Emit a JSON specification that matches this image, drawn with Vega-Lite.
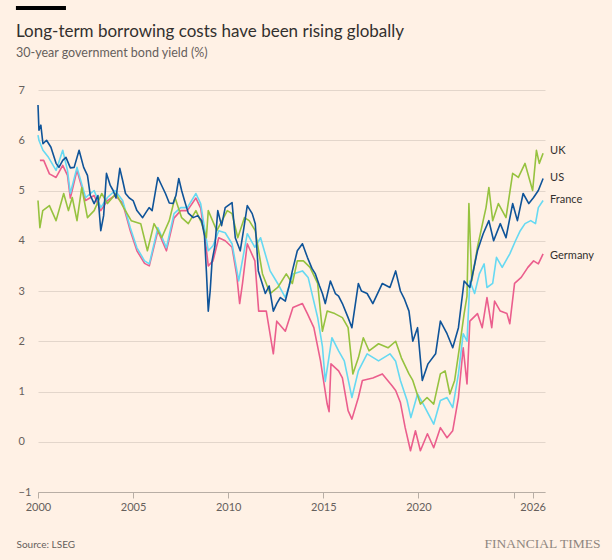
{
  "$schema": "https://vega.github.io/schema/vega-lite/v6.json",
  "description": "30-year government bond yields, FT style",
  "width": 507,
  "height": 402,
  "autosize": {"type": "none"},
  "padding": {"left": 38, "top": 90, "right": 67, "bottom": 68},
  "background": "#fff1e5",
  "config": {
    "view": {"stroke": null},
    "font": "Lato"
  },
  "title": {
    "text": "Long-term borrowing costs have been rising globally",
    "subtitle": "30-year government bond yield (%)",
    "anchor": "start",
    "frame": "group",
    "dx": -22,
    "offset": -54,
    "font": "Lato",
    "fontSize": 17,
    "fontWeight": "normal",
    "color": "#33302e",
    "subtitleFont": "Lato",
    "subtitleFontSize": 12.5,
    "subtitleColor": "#66605c",
    "subtitlePadding": 6
  },
  "datasets": {
    "yields": [
      {"s": "Germany", "t": 2000.1, "v": 5.6},
      {"s": "Germany", "t": 2000.3, "v": 5.6},
      {"s": "Germany", "t": 2000.6, "v": 5.33},
      {"s": "Germany", "t": 2000.95, "v": 5.26},
      {"s": "Germany", "t": 2001.3, "v": 5.5},
      {"s": "Germany", "t": 2001.55, "v": 5.3},
      {"s": "Germany", "t": 2001.7, "v": 4.85},
      {"s": "Germany", "t": 2002.05, "v": 5.4},
      {"s": "Germany", "t": 2002.5, "v": 4.8},
      {"s": "Germany", "t": 2002.95, "v": 4.9},
      {"s": "Germany", "t": 2003.3, "v": 4.6},
      {"s": "Germany", "t": 2003.65, "v": 4.8},
      {"s": "Germany", "t": 2004.05, "v": 4.9},
      {"s": "Germany", "t": 2004.45, "v": 4.75},
      {"s": "Germany", "t": 2004.85, "v": 4.2},
      {"s": "Germany", "t": 2005.2, "v": 3.8},
      {"s": "Germany", "t": 2005.6, "v": 3.55},
      {"s": "Germany", "t": 2005.85, "v": 3.5},
      {"s": "Germany", "t": 2006.3, "v": 4.2},
      {"s": "Germany", "t": 2006.75, "v": 3.8},
      {"s": "Germany", "t": 2007.15, "v": 4.45},
      {"s": "Germany", "t": 2007.5, "v": 4.6},
      {"s": "Germany", "t": 2007.85, "v": 4.6},
      {"s": "Germany", "t": 2008.3, "v": 4.85},
      {"s": "Germany", "t": 2008.55, "v": 4.65},
      {"s": "Germany", "t": 2008.8, "v": 4.0},
      {"s": "Germany", "t": 2008.95, "v": 3.5},
      {"s": "Germany", "t": 2009.2, "v": 3.6},
      {"s": "Germany", "t": 2009.5, "v": 4.06},
      {"s": "Germany", "t": 2009.84, "v": 4.0},
      {"s": "Germany", "t": 2010.2, "v": 3.87},
      {"s": "Germany", "t": 2010.45, "v": 3.3},
      {"s": "Germany", "t": 2010.6, "v": 2.75},
      {"s": "Germany", "t": 2010.75, "v": 3.15},
      {"s": "Germany", "t": 2011.0, "v": 3.94},
      {"s": "Germany", "t": 2011.4, "v": 3.6},
      {"s": "Germany", "t": 2011.6, "v": 2.6},
      {"s": "Germany", "t": 2012.0, "v": 2.6},
      {"s": "Germany", "t": 2012.37, "v": 1.75},
      {"s": "Germany", "t": 2012.55, "v": 2.4},
      {"s": "Germany", "t": 2013.0, "v": 2.2},
      {"s": "Germany", "t": 2013.4, "v": 2.67},
      {"s": "Germany", "t": 2013.9, "v": 2.75},
      {"s": "Germany", "t": 2014.16, "v": 2.55},
      {"s": "Germany", "t": 2014.5, "v": 2.27},
      {"s": "Germany", "t": 2014.85, "v": 1.61},
      {"s": "Germany", "t": 2015.2, "v": 0.75},
      {"s": "Germany", "t": 2015.3, "v": 0.6},
      {"s": "Germany", "t": 2015.4, "v": 1.55},
      {"s": "Germany", "t": 2015.8, "v": 1.41},
      {"s": "Germany", "t": 2016.0, "v": 1.27},
      {"s": "Germany", "t": 2016.3, "v": 0.62},
      {"s": "Germany", "t": 2016.5, "v": 0.45},
      {"s": "Germany", "t": 2016.84, "v": 0.88},
      {"s": "Germany", "t": 2017.05, "v": 1.22},
      {"s": "Germany", "t": 2017.6, "v": 1.27},
      {"s": "Germany", "t": 2018.1, "v": 1.35},
      {"s": "Germany", "t": 2018.6, "v": 1.12},
      {"s": "Germany", "t": 2018.8, "v": 1.02},
      {"s": "Germany", "t": 2019.05, "v": 0.78},
      {"s": "Germany", "t": 2019.3, "v": 0.28},
      {"s": "Germany", "t": 2019.58, "v": -0.18},
      {"s": "Germany", "t": 2019.84, "v": 0.22},
      {"s": "Germany", "t": 2020.1, "v": -0.18},
      {"s": "Germany", "t": 2020.47, "v": 0.16},
      {"s": "Germany", "t": 2020.8, "v": -0.12},
      {"s": "Germany", "t": 2021.15, "v": 0.28},
      {"s": "Germany", "t": 2021.5, "v": 0.08},
      {"s": "Germany", "t": 2021.8, "v": 0.22},
      {"s": "Germany", "t": 2022.1, "v": 0.88},
      {"s": "Germany", "t": 2022.35, "v": 1.87},
      {"s": "Germany", "t": 2022.55, "v": 1.15},
      {"s": "Germany", "t": 2022.7, "v": 2.4},
      {"s": "Germany", "t": 2023.1, "v": 2.55},
      {"s": "Germany", "t": 2023.35, "v": 2.27},
      {"s": "Germany", "t": 2023.6, "v": 2.87},
      {"s": "Germany", "t": 2023.85, "v": 2.27},
      {"s": "Germany", "t": 2024.0, "v": 2.8},
      {"s": "Germany", "t": 2024.3, "v": 2.6},
      {"s": "Germany", "t": 2024.65, "v": 2.55},
      {"s": "Germany", "t": 2024.8, "v": 2.35},
      {"s": "Germany", "t": 2025.05, "v": 3.15},
      {"s": "Germany", "t": 2025.4, "v": 3.27},
      {"s": "Germany", "t": 2025.75, "v": 3.47},
      {"s": "Germany", "t": 2026.05, "v": 3.6},
      {"s": "Germany", "t": 2026.3, "v": 3.54},
      {"s": "Germany", "t": 2026.55, "v": 3.74},

      {"s": "France", "t": 2000.0, "v": 6.1},
      {"s": "France", "t": 2000.05, "v": 6.0},
      {"s": "France", "t": 2000.26, "v": 5.8},
      {"s": "France", "t": 2000.55, "v": 5.66},
      {"s": "France", "t": 2000.95, "v": 5.4},
      {"s": "France", "t": 2001.3, "v": 5.8},
      {"s": "France", "t": 2001.55, "v": 5.4},
      {"s": "France", "t": 2001.7, "v": 4.94},
      {"s": "France", "t": 2002.05, "v": 5.46},
      {"s": "France", "t": 2002.5, "v": 4.86},
      {"s": "France", "t": 2002.95, "v": 5.0},
      {"s": "France", "t": 2003.3, "v": 4.66},
      {"s": "France", "t": 2003.65, "v": 4.86},
      {"s": "France", "t": 2004.05, "v": 5.0},
      {"s": "France", "t": 2004.45, "v": 4.8},
      {"s": "France", "t": 2004.85, "v": 4.26},
      {"s": "France", "t": 2005.2, "v": 3.86},
      {"s": "France", "t": 2005.6, "v": 3.6},
      {"s": "France", "t": 2005.85, "v": 3.54},
      {"s": "France", "t": 2006.3, "v": 4.26},
      {"s": "France", "t": 2006.75, "v": 3.86},
      {"s": "France", "t": 2007.15, "v": 4.54},
      {"s": "France", "t": 2007.5, "v": 4.66},
      {"s": "France", "t": 2007.85, "v": 4.66},
      {"s": "France", "t": 2008.3, "v": 4.94},
      {"s": "France", "t": 2008.55, "v": 4.74},
      {"s": "France", "t": 2008.8, "v": 4.14},
      {"s": "France", "t": 2008.95, "v": 3.8},
      {"s": "France", "t": 2009.2, "v": 3.9},
      {"s": "France", "t": 2009.5, "v": 4.2},
      {"s": "France", "t": 2009.84, "v": 4.16},
      {"s": "France", "t": 2010.2, "v": 3.94},
      {"s": "France", "t": 2010.55, "v": 3.2},
      {"s": "France", "t": 2011.0, "v": 4.14},
      {"s": "France", "t": 2011.4, "v": 3.87},
      {"s": "France", "t": 2011.7, "v": 4.06},
      {"s": "France", "t": 2012.2, "v": 3.4},
      {"s": "France", "t": 2012.6, "v": 3.15},
      {"s": "France", "t": 2013.0, "v": 2.87},
      {"s": "France", "t": 2013.4, "v": 3.34},
      {"s": "France", "t": 2013.9, "v": 3.4},
      {"s": "France", "t": 2014.2, "v": 3.27},
      {"s": "France", "t": 2014.7, "v": 2.47},
      {"s": "France", "t": 2014.95, "v": 1.9},
      {"s": "France", "t": 2015.1, "v": 1.2},
      {"s": "France", "t": 2015.45, "v": 2.07},
      {"s": "France", "t": 2015.8, "v": 1.81},
      {"s": "France", "t": 2016.1, "v": 1.61},
      {"s": "France", "t": 2016.5, "v": 0.88},
      {"s": "France", "t": 2016.84, "v": 1.41},
      {"s": "France", "t": 2017.3, "v": 1.75},
      {"s": "France", "t": 2017.9, "v": 1.61},
      {"s": "France", "t": 2018.5, "v": 1.75},
      {"s": "France", "t": 2018.8, "v": 1.6},
      {"s": "France", "t": 2019.05, "v": 1.22},
      {"s": "France", "t": 2019.4, "v": 0.82},
      {"s": "France", "t": 2019.6, "v": 0.48},
      {"s": "France", "t": 2019.95, "v": 0.95},
      {"s": "France", "t": 2020.25, "v": 0.75},
      {"s": "France", "t": 2020.8, "v": 0.35},
      {"s": "France", "t": 2021.15, "v": 0.82},
      {"s": "France", "t": 2021.5, "v": 0.88},
      {"s": "France", "t": 2021.8, "v": 0.68},
      {"s": "France", "t": 2022.1, "v": 1.35},
      {"s": "France", "t": 2022.35, "v": 2.15},
      {"s": "France", "t": 2022.55, "v": 2.0},
      {"s": "France", "t": 2022.7, "v": 3.2},
      {"s": "France", "t": 2022.95, "v": 2.95},
      {"s": "France", "t": 2023.2, "v": 3.34},
      {"s": "France", "t": 2023.45, "v": 3.54},
      {"s": "France", "t": 2023.6, "v": 3.07},
      {"s": "France", "t": 2023.9, "v": 3.15},
      {"s": "France", "t": 2024.1, "v": 3.67},
      {"s": "France", "t": 2024.4, "v": 3.47},
      {"s": "France", "t": 2024.8, "v": 3.74},
      {"s": "France", "t": 2025.1, "v": 4.0},
      {"s": "France", "t": 2025.35, "v": 4.2},
      {"s": "France", "t": 2025.6, "v": 4.34},
      {"s": "France", "t": 2025.9, "v": 4.4},
      {"s": "France", "t": 2026.15, "v": 4.34},
      {"s": "France", "t": 2026.3, "v": 4.66},
      {"s": "France", "t": 2026.55, "v": 4.8},

      {"s": "UK", "t": 2000.0, "v": 4.8},
      {"s": "UK", "t": 2000.1, "v": 4.26},
      {"s": "UK", "t": 2000.25, "v": 4.6},
      {"s": "UK", "t": 2000.6, "v": 4.7},
      {"s": "UK", "t": 2000.95, "v": 4.4},
      {"s": "UK", "t": 2001.35, "v": 4.94},
      {"s": "UK", "t": 2001.6, "v": 4.6},
      {"s": "UK", "t": 2001.8, "v": 4.86},
      {"s": "UK", "t": 2002.05, "v": 4.4},
      {"s": "UK", "t": 2002.3, "v": 5.06},
      {"s": "UK", "t": 2002.6, "v": 4.46},
      {"s": "UK", "t": 2002.95, "v": 4.6},
      {"s": "UK", "t": 2003.35, "v": 4.94},
      {"s": "UK", "t": 2003.65, "v": 4.74},
      {"s": "UK", "t": 2004.1, "v": 4.94},
      {"s": "UK", "t": 2004.5, "v": 4.66},
      {"s": "UK", "t": 2004.9, "v": 4.4},
      {"s": "UK", "t": 2005.4, "v": 4.34},
      {"s": "UK", "t": 2005.75, "v": 3.8},
      {"s": "UK", "t": 2006.1, "v": 4.34},
      {"s": "UK", "t": 2006.5, "v": 4.06},
      {"s": "UK", "t": 2006.9, "v": 4.4},
      {"s": "UK", "t": 2007.2, "v": 4.86},
      {"s": "UK", "t": 2007.55, "v": 4.46},
      {"s": "UK", "t": 2007.9, "v": 4.34},
      {"s": "UK", "t": 2008.3, "v": 4.6},
      {"s": "UK", "t": 2008.6, "v": 4.35},
      {"s": "UK", "t": 2008.85, "v": 4.06},
      {"s": "UK", "t": 2008.95, "v": 4.6},
      {"s": "UK", "t": 2009.4, "v": 4.2},
      {"s": "UK", "t": 2009.95, "v": 4.6},
      {"s": "UK", "t": 2010.2, "v": 4.54},
      {"s": "UK", "t": 2010.5, "v": 4.06},
      {"s": "UK", "t": 2010.85, "v": 4.46},
      {"s": "UK", "t": 2011.1, "v": 4.4},
      {"s": "UK", "t": 2011.42, "v": 4.2},
      {"s": "UK", "t": 2011.8, "v": 3.34},
      {"s": "UK", "t": 2012.2, "v": 2.95},
      {"s": "UK", "t": 2012.6, "v": 3.07},
      {"s": "UK", "t": 2013.05, "v": 3.34},
      {"s": "UK", "t": 2013.37, "v": 3.15},
      {"s": "UK", "t": 2013.63, "v": 3.6},
      {"s": "UK", "t": 2013.95, "v": 3.6},
      {"s": "UK", "t": 2014.3, "v": 3.47},
      {"s": "UK", "t": 2014.7, "v": 3.15},
      {"s": "UK", "t": 2014.95, "v": 2.2},
      {"s": "UK", "t": 2015.2, "v": 2.6},
      {"s": "UK", "t": 2015.6, "v": 2.55},
      {"s": "UK", "t": 2016.0, "v": 2.47},
      {"s": "UK", "t": 2016.3, "v": 2.27},
      {"s": "UK", "t": 2016.55, "v": 1.35},
      {"s": "UK", "t": 2016.84, "v": 1.67},
      {"s": "UK", "t": 2017.1, "v": 2.07},
      {"s": "UK", "t": 2017.4, "v": 1.81},
      {"s": "UK", "t": 2017.9, "v": 1.95},
      {"s": "UK", "t": 2018.4, "v": 1.87},
      {"s": "UK", "t": 2018.8, "v": 2.0},
      {"s": "UK", "t": 2019.1, "v": 1.67},
      {"s": "UK", "t": 2019.5, "v": 1.35},
      {"s": "UK", "t": 2019.7, "v": 1.22},
      {"s": "UK", "t": 2020.1, "v": 0.75},
      {"s": "UK", "t": 2020.45, "v": 0.88},
      {"s": "UK", "t": 2020.8, "v": 0.75},
      {"s": "UK", "t": 2021.15, "v": 1.35},
      {"s": "UK", "t": 2021.4, "v": 1.41},
      {"s": "UK", "t": 2021.65, "v": 0.95},
      {"s": "UK", "t": 2021.9, "v": 1.22},
      {"s": "UK", "t": 2022.15, "v": 1.87},
      {"s": "UK", "t": 2022.4, "v": 2.55},
      {"s": "UK", "t": 2022.55, "v": 2.9},
      {"s": "UK", "t": 2022.65, "v": 4.74},
      {"s": "UK", "t": 2022.8, "v": 3.2},
      {"s": "UK", "t": 2023.1, "v": 3.87},
      {"s": "UK", "t": 2023.4, "v": 4.4},
      {"s": "UK", "t": 2023.55, "v": 4.66},
      {"s": "UK", "t": 2023.7, "v": 5.06},
      {"s": "UK", "t": 2023.9, "v": 4.4},
      {"s": "UK", "t": 2024.2, "v": 4.74},
      {"s": "UK", "t": 2024.6, "v": 4.46},
      {"s": "UK", "t": 2024.95, "v": 5.34},
      {"s": "UK", "t": 2025.25, "v": 5.26},
      {"s": "UK", "t": 2025.6, "v": 5.54},
      {"s": "UK", "t": 2025.85, "v": 5.2},
      {"s": "UK", "t": 2026.0, "v": 5.0},
      {"s": "UK", "t": 2026.2, "v": 5.8},
      {"s": "UK", "t": 2026.35, "v": 5.54},
      {"s": "UK", "t": 2026.55, "v": 5.74},

      {"s": "US", "t": 2000.0, "v": 6.7},
      {"s": "US", "t": 2000.05, "v": 6.2},
      {"s": "US", "t": 2000.15, "v": 6.3},
      {"s": "US", "t": 2000.26, "v": 5.93},
      {"s": "US", "t": 2000.45, "v": 6.0},
      {"s": "US", "t": 2000.68, "v": 5.86},
      {"s": "US", "t": 2000.95, "v": 5.54},
      {"s": "US", "t": 2001.1, "v": 5.46},
      {"s": "US", "t": 2001.3, "v": 5.6},
      {"s": "US", "t": 2001.47, "v": 5.66},
      {"s": "US", "t": 2001.7, "v": 5.45},
      {"s": "US", "t": 2001.9, "v": 5.46},
      {"s": "US", "t": 2002.16, "v": 5.8},
      {"s": "US", "t": 2002.4, "v": 5.46},
      {"s": "US", "t": 2002.6, "v": 5.3},
      {"s": "US", "t": 2002.75, "v": 4.9},
      {"s": "US", "t": 2002.95, "v": 4.74},
      {"s": "US", "t": 2003.15, "v": 4.9},
      {"s": "US", "t": 2003.3, "v": 4.2},
      {"s": "US", "t": 2003.45, "v": 4.5},
      {"s": "US", "t": 2003.6, "v": 5.34},
      {"s": "US", "t": 2003.8, "v": 5.1},
      {"s": "US", "t": 2003.95, "v": 5.0},
      {"s": "US", "t": 2004.1, "v": 4.85},
      {"s": "US", "t": 2004.3, "v": 5.44},
      {"s": "US", "t": 2004.45, "v": 5.2},
      {"s": "US", "t": 2004.6, "v": 4.94},
      {"s": "US", "t": 2004.8, "v": 4.85},
      {"s": "US", "t": 2005.0, "v": 4.8},
      {"s": "US", "t": 2005.2, "v": 4.6},
      {"s": "US", "t": 2005.5, "v": 4.46},
      {"s": "US", "t": 2005.65, "v": 4.55},
      {"s": "US", "t": 2005.84, "v": 4.66},
      {"s": "US", "t": 2006.0, "v": 4.6},
      {"s": "US", "t": 2006.3, "v": 5.26},
      {"s": "US", "t": 2006.5, "v": 5.1},
      {"s": "US", "t": 2006.7, "v": 4.94},
      {"s": "US", "t": 2006.9, "v": 4.75},
      {"s": "US", "t": 2007.1, "v": 4.74},
      {"s": "US", "t": 2007.25, "v": 4.9},
      {"s": "US", "t": 2007.4, "v": 5.24},
      {"s": "US", "t": 2007.55, "v": 5.0},
      {"s": "US", "t": 2007.7, "v": 4.8},
      {"s": "US", "t": 2007.9, "v": 4.55},
      {"s": "US", "t": 2008.16, "v": 4.46},
      {"s": "US", "t": 2008.4, "v": 4.5},
      {"s": "US", "t": 2008.6, "v": 4.4},
      {"s": "US", "t": 2008.75, "v": 4.1},
      {"s": "US", "t": 2008.85, "v": 3.4},
      {"s": "US", "t": 2008.95, "v": 2.6},
      {"s": "US", "t": 2009.05, "v": 3.0},
      {"s": "US", "t": 2009.15, "v": 3.6},
      {"s": "US", "t": 2009.3, "v": 3.9},
      {"s": "US", "t": 2009.45, "v": 4.6},
      {"s": "US", "t": 2009.65, "v": 4.3},
      {"s": "US", "t": 2009.84, "v": 4.66},
      {"s": "US", "t": 2010.2, "v": 4.76},
      {"s": "US", "t": 2010.37, "v": 4.06},
      {"s": "US", "t": 2010.63, "v": 3.8},
      {"s": "US", "t": 2010.8, "v": 4.2},
      {"s": "US", "t": 2011.0, "v": 4.7},
      {"s": "US", "t": 2011.26, "v": 4.54},
      {"s": "US", "t": 2011.42, "v": 4.34},
      {"s": "US", "t": 2011.58, "v": 3.4},
      {"s": "US", "t": 2011.95, "v": 2.95},
      {"s": "US", "t": 2012.15, "v": 3.1},
      {"s": "US", "t": 2012.37, "v": 2.6},
      {"s": "US", "t": 2012.55, "v": 2.75},
      {"s": "US", "t": 2012.74, "v": 2.87},
      {"s": "US", "t": 2013.0, "v": 2.8},
      {"s": "US", "t": 2013.2, "v": 3.1},
      {"s": "US", "t": 2013.37, "v": 3.4},
      {"s": "US", "t": 2013.63, "v": 3.8},
      {"s": "US", "t": 2013.9, "v": 3.94},
      {"s": "US", "t": 2014.16, "v": 3.67},
      {"s": "US", "t": 2014.4, "v": 3.45},
      {"s": "US", "t": 2014.58, "v": 3.34},
      {"s": "US", "t": 2014.8, "v": 3.1},
      {"s": "US", "t": 2014.95, "v": 2.95},
      {"s": "US", "t": 2015.1, "v": 2.75},
      {"s": "US", "t": 2015.37, "v": 3.2},
      {"s": "US", "t": 2015.63, "v": 2.95},
      {"s": "US", "t": 2015.8, "v": 2.9},
      {"s": "US", "t": 2016.0, "v": 2.75},
      {"s": "US", "t": 2016.3, "v": 2.47},
      {"s": "US", "t": 2016.5, "v": 2.27},
      {"s": "US", "t": 2016.84, "v": 3.15},
      {"s": "US", "t": 2017.0, "v": 3.0},
      {"s": "US", "t": 2017.3, "v": 2.95},
      {"s": "US", "t": 2017.6, "v": 2.75},
      {"s": "US", "t": 2018.1, "v": 3.15},
      {"s": "US", "t": 2018.5, "v": 3.07},
      {"s": "US", "t": 2018.8, "v": 3.4},
      {"s": "US", "t": 2019.05, "v": 3.0},
      {"s": "US", "t": 2019.25, "v": 2.85},
      {"s": "US", "t": 2019.5, "v": 2.6},
      {"s": "US", "t": 2019.7, "v": 2.0},
      {"s": "US", "t": 2019.95, "v": 2.27},
      {"s": "US", "t": 2020.2, "v": 1.22},
      {"s": "US", "t": 2020.5, "v": 1.55},
      {"s": "US", "t": 2020.9, "v": 1.75},
      {"s": "US", "t": 2021.15, "v": 2.4},
      {"s": "US", "t": 2021.5, "v": 2.15},
      {"s": "US", "t": 2021.8, "v": 1.87},
      {"s": "US", "t": 2022.1, "v": 2.27},
      {"s": "US", "t": 2022.4, "v": 3.2},
      {"s": "US", "t": 2022.7, "v": 3.07},
      {"s": "US", "t": 2023.1, "v": 3.8},
      {"s": "US", "t": 2023.4, "v": 4.14},
      {"s": "US", "t": 2023.7, "v": 4.4},
      {"s": "US", "t": 2023.95, "v": 4.0},
      {"s": "US", "t": 2024.3, "v": 4.34},
      {"s": "US", "t": 2024.6, "v": 4.06},
      {"s": "US", "t": 2024.95, "v": 4.74},
      {"s": "US", "t": 2025.2, "v": 4.4},
      {"s": "US", "t": 2025.5, "v": 4.94},
      {"s": "US", "t": 2025.8, "v": 4.74},
      {"s": "US", "t": 2026.05, "v": 4.86},
      {"s": "US", "t": 2026.3, "v": 5.0},
      {"s": "US", "t": 2026.55, "v": 5.24}
    ],
    "labels": [
      {"s": "UK", "t": 2026.6, "v": 5.78},
      {"s": "US", "t": 2026.6, "v": 5.24},
      {"s": "France", "t": 2026.6, "v": 4.82},
      {"s": "Germany", "t": 2026.6, "v": 3.7}
    ]
  },
  "layer": [
    {
      "data": {"name": "yields"},
      "mark": {"type": "line", "strokeWidth": 1.6, "strokeJoin": "round"},
      "encoding": {
        "x": {
          "field": "t",
          "type": "quantitative",
          "scale": {"domain": [2000, 2026.65], "nice": false, "zero": false},
          "axis": {
            "values": [2000, 2005, 2010, 2015, 2020, 2025, 2026],
            "format": "d",
            "labelExpr": "datum.value == 2025 ? '' : datum.label",
            "labelFlush": false,
            "labelOverlap": false,
            "grid": false,
            "domainColor": "#b8aea5",
            "tickColor": "#b8aea5",
            "tickSize": 6,
            "labelColor": "#66605c",
            "labelFontSize": 11,
            "labelPadding": 3,
            "title": "Source: LSEG",
            "titleAnchor": "start",
            "titleAlign": "left",
            "titleX": -22,
            "titleY": 52,
            "titleBaseline": "middle",
            "titleFontSize": 10,
            "titleFontWeight": "normal",
            "titleColor": "#66605c"
          }
        },
        "y": {
          "field": "v",
          "type": "quantitative",
          "scale": {"domain": [-1, 7], "nice": false, "zero": false},
          "axis": {
            "values": [-1, 0, 1, 2, 3, 4, 5, 6, 7],
            "domain": false,
            "ticks": false,
            "gridColor": "#e3d6cb",
            "gridWidth": 1,
            "labelAlign": "left",
            "labelPadding": 20,
            "labelColor": "#66605c",
            "labelFontSize": 11,
            "title": "FINANCIAL TIMES",
            "titleAngle": 0,
            "titleAlign": "right",
            "titleBaseline": "middle",
            "titleX": 562,
            "titleY": 453,
            "titleFont": "Liberation Serif",
            "titleFontSize": 13.5,
            "titleFontWeight": "normal",
            "titleColor": "#8f8780"
          }
        },
        "color": {
          "field": "s",
          "type": "nominal",
          "scale": {
            "domain": ["Germany", "France", "UK", "US"],
            "range": ["#eb5e8d", "#66d9f2", "#96c23f", "#0f5499"]
          },
          "legend": null
        },
        "order": {"field": "t", "type": "quantitative"}
      }
    },
    {
      "data": {"name": "labels"},
      "mark": {"type": "text", "align": "left", "baseline": "middle", "dx": 6, "fontSize": 11, "color": "#33302e"},
      "encoding": {
        "x": {"field": "t", "type": "quantitative"},
        "y": {"field": "v", "type": "quantitative"},
        "text": {"field": "s"}
      }
    },
    {
      "data": {"values": [{}]},
      "mark": {"type": "rule", "color": "#000000", "strokeWidth": 4},
      "encoding": {
        "x": {"datum": 1998.84},
        "x2": {"datum": 2001.47},
        "y": {"datum": 8.63}
      }
    }
  ]
}
